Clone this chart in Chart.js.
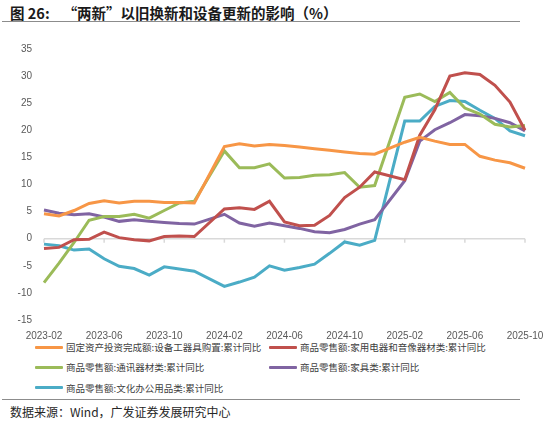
<!DOCTYPE html>
<html>
<head>
<meta charset="utf-8">
<script src="https://cdn.jsdelivr.net/npm/chart.js@4.4.1/dist/chart.umd.min.js"></script>
<style>
  body { margin: 0; background: #fff; font-family: "Noto Sans CJK SC", "Liberation Sans", sans-serif; }
  #wrap { position: relative; width: 550px; height: 422px; overflow: hidden; }
  #title { position: absolute; left: 10px; top: 2px; font-size: 14.5px; font-weight: bold; color: #1a1a1a; white-space: nowrap; }
  #title span { margin-left: 13px; }
  .rule { position: absolute; left: 2px; width: 518px; height: 0; border-top: 1.5px solid #8c8c8c; }
  #box { position: absolute; left: 0; top: 31px; width: 550px; height: 309px; }
  #legend { position: absolute; left: 0; top: 0; }
  .item { position: absolute; display: flex; align-items: center; font-size: 9.5px; color: #404040; white-space: nowrap; }
  .item i { display: inline-block; width: 28px; height: 3px; margin-right: 3px; border-radius: 1px; }
  #source { position: absolute; left: 10px; top: 403px; font-size: 12px; color: #262626; white-space: nowrap; }
</style>
</head>
<body>
<div id="wrap">
  <div id="title">图 26:<span>“两新”以旧换新和设备更新的影响（%）</span></div>
  <div class="rule" style="top:21px"></div>
  <div id="box"><canvas id="chart_liangxin"></canvas></div>
  <div id="legend"></div>
  <div class="rule" style="top:399px"></div>
  <div id="source">数据来源：Wind，广发证券发展研究中心</div>
</div>
<script>
// months 2023-02 .. 2025-10, January has no cumulative figure (null)
const months = [
    "2023-02", "2023-03", "2023-04", "2023-05", "2023-06", "2023-07", "2023-08",
    "2023-09", "2023-10", "2023-11", "2023-12", "2024-01", "2024-02", "2024-03",
    "2024-04", "2024-05", "2024-06", "2024-07", "2024-08", "2024-09", "2024-10",
    "2024-11", "2024-12", "2025-01", "2025-02", "2025-03", "2025-04", "2025-05",
    "2025-06", "2025-07", "2025-08", "2025-09", "2025-10",
];

const equipmentInvest = [
    4.6, 4.2, 5.2, 6.5, 7.0, 6.6, 6.9, 6.9, 6.7, 6.7, 6.6, null,
    17.0, 17.5, 17.1, 17.4, 17.2, 16.9, 16.6, 16.3, 16.0, 15.7, 15.6, null,
    17.8, 18.7, 18.0, 17.4, 17.4, 15.2, 14.5, 14.0, 13.0,
];
const homeAppliance = [
    -1.8, -1.6, -0.2, -0.1, 1.2, 0.2, -0.2, -0.4, 0.4, 0.5, 0.4, null,
    5.5, 5.7, 5.4, 6.9, 3.1, 2.4, 2.5, 4.3, 7.6, 9.5, 12.3, null,
    10.9, 19.1, 23.8, 30.0, 30.6, 30.3, 28.3, 25.2, 20.0,
];
const telecom = [
    -8.1, -4.5, -0.7, 3.4, 4.1, 4.1, 4.5, 3.8, 5.2, 6.6, 6.9, null,
    16.2, 13.1, 13.1, 13.8, 11.2, 11.3, 11.7, 11.8, 12.2, 9.5, 9.8, null,
    26.1, 26.7, 25.3, 27.0, 24.1, 23.0, 21.1, 20.6, 20.9,
];
const furniture = [
    5.3, 4.7, 4.4, 4.6, 4.0, 3.2, 3.5, 3.2, 3.0, 2.8, 2.7, null,
    4.5, 2.9, 2.3, 2.9, 2.4, 1.9, 1.3, 1.1, 1.7, 2.7, 3.5, null,
    10.7, 18.0, 20.1, 21.4, 22.9, 22.7, 22.2, 21.4, 19.9,
];
const officeGoods = [
    -1.0, -1.3, -2.1, -1.9, -3.7, -5.1, -5.5, -6.7, -5.2, -5.6, -6.0, null,
    -8.8, -8.0, -7.1, -5.0, -5.8, -5.3, -4.7, -2.7, -0.6, -1.2, -0.3, null,
    21.7, 21.7, 24.4, 25.5, 25.3, 23.7, 22.2, 19.9, 19.0,
];

const seriesNames = [
    "固定资产投资完成额:设备工器具购置:累计同比",
    "商品零售额:家用电器和音像器材类:累计同比",
    "商品零售额:通讯器材类:累计同比",
    "商品零售额:家具类:累计同比",
    "商品零售额:文化办公用品类:累计同比",
];
const seriesColors = ["#F79646", "#C0504D", "#9BBB59", "#8064A2", "#4BACC6"];
const seriesData = [equipmentInvest, homeAppliance, telecom, furniture, officeGoods];

// small ticks hanging under the zero line
const zeroTicks = {
    id: "zeroTicks",
    beforeDatasetsDraw(chart) {
        const x = chart.scales.x, y = chart.scales.y;
        const y0 = y.getPixelForValue(0);
        const c = chart.ctx;
        c.save();
        c.strokeStyle = "#d9d9d9";
        c.lineWidth = 1.5;
        x.ticks.forEach((t, i) => {
            if (i % 4 !== 0) return;
            const px = x.getPixelForTick(i);
            c.beginPath();
            c.moveTo(px, y0);
            c.lineTo(px, y0 + 4);
            c.stroke();
        });
        c.restore();
    },
};

const ctx = document.getElementById("chart_liangxin").getContext("2d");
const chart_liangxin = new Chart(ctx, {
    type: "line",
    data: {
        labels: months,
        datasets: seriesData.map((d, k) => ({
            label: seriesNames[k],
            data: d,
            borderColor: seriesColors[k],
            backgroundColor: seriesColors[k],
            borderWidth: 3,
            pointRadius: 0,
            tension: 0,
            spanGaps: true,
            fill: false,
        })),
    },
    options: {
        responsive: true,
        maintainAspectRatio: false,
        animation: false,
        layout: { padding: { top: 0, right: 25, left: 0, bottom: 0 } },
        plugins: {
            legend: { display: false }, // html legend below
            tooltip: { enabled: false },
        },
        scales: {
            x: {
                grid: { display: false },
                border: { display: false },
                afterFit: (s) => { s.height = 20; },
                ticks: {
                    autoSkip: false,
                    maxRotation: 0,
                    padding: 2,
                    color: "#595959",
                    font: { family: "Liberation Sans", size: 10 },
                    callback: function (v, i) {
                        return i % 4 === 0 ? this.getLabelForValue(v) : "";
                    },
                },
            },
            y: {
                min: -15,
                max: 35,
                afterFit: (s) => { s.width = 44; },
                border: { display: false },
                grid: {
                    drawTicks: false,
                    lineWidth: 1.5,
                    color: (c) => (c.tick && c.tick.value === 0 ? "#d9d9d9" : "rgba(0,0,0,0)"),
                },
                ticks: {
                    stepSize: 5,
                    padding: 12,
                    color: "#595959",
                    font: { family: "Liberation Sans", size: 10 },
                },
            },
        },
    },
    plugins: [zeroTicks],
});

// legend, two per row
const legend = document.getElementById("legend");
chart_liangxin.data.datasets.forEach((ds, k) => {
    const el = document.createElement("div");
    el.className = "item";
    el.style.left = (35 + (k % 2) * 234) + "px";
    el.style.top = (340 + Math.floor(k / 2) * 20.3) + "px";
    el.innerHTML = '<i style="background:' + ds.borderColor + '"></i>' + ds.label;
    legend.appendChild(el);
});
</script>
</body>
</html>
